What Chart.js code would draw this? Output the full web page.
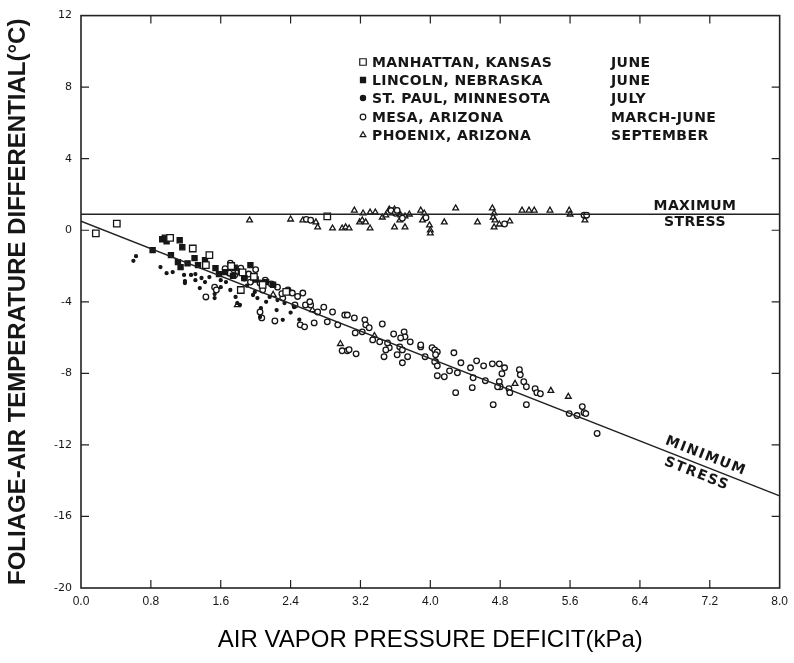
<!DOCTYPE html>
<html>
<head>
<meta charset="utf-8">
<script src="https://cdn.jsdelivr.net/npm/chart.js@4.4.1/dist/chart.umd.min.js"></script>
<style>
  html, body { margin: 0; padding: 0; background: #fff; }
  #wrap { width: 794px; height: 663px; position: relative; }
</style>
</head>
<body>
<div id="wrap"><canvas id="stressChart"></canvas></div>
<script>
// tick values for both axes
const xTicks = [0, 0.8, 1.6, 2.4, 3.2, 4.0, 4.8, 5.6, 6.4, 7.2, 8.0];
const yTicks = [-20, -16, -12, -8, -4, 0, 4, 8, 12];

// [VPD (kPa), Tc - Ta (°C)] per site
const manhattan = [
  [0.17, -0.18], [0.41, 0.37], [1.02, -0.43], [1.28, -1.02], [1.47, -1.39], [1.43, -1.95],
  [1.72, -2.0], [1.85, -2.35], [1.83, -3.34], [1.98, -2.6], [2.08, -3.05], [2.35, -3.45], [2.82, 0.78]
];
const lincoln = [
  [0.82, -1.11], [0.93, -0.5], [0.98, -0.62], [1.13, -0.56], [1.16, -0.95], [1.03, -1.39],
  [1.11, -1.78], [1.14, -2.06], [1.3, -1.56], [1.34, -1.95], [1.42, -1.67], [1.54, -2.12],
  [1.65, -2.34], [1.94, -1.95], [1.83, -2.34], [1.87, -2.67], [1.76, -2.1], [2.0, -2.75],
  [2.12, -2.9], [2.2, -3.05], [1.22, -1.85], [1.58, -2.45], [0.96, -0.42], [1.74, -2.55]
];
const stPaul = [
  [0.63, -1.45], [0.6, -1.71], [0.91, -2.06], [0.98, -2.4], [1.05, -2.34], [1.18, -2.5],
  [1.19, -2.84], [1.19, -2.95], [1.26, -2.5], [1.31, -2.45], [1.31, -2.79], [1.38, -2.67],
  [1.36, -3.23], [1.47, -2.62], [1.53, -3.57], [1.53, -3.79], [1.6, -2.79], [1.6, -3.18],
  [1.71, -3.34], [1.77, -3.73], [1.79, -4.07], [1.99, -3.45], [1.82, -4.18], [1.97, -3.62],
  [2.02, -3.79], [2.06, -4.35], [2.16, -3.73], [2.24, -4.46], [2.31, -5.01], [2.05, -4.85],
  [2.5, -5.0], [2.4, -4.6], [2.25, -3.9], [2.33, -4.07], [1.66, -2.9], [1.9, -3.1],
  [2.12, -4.0], [2.44, -4.3], [1.42, -2.9]
];
const mesa = [
  [1.71, -1.84], [1.83, -2.12], [1.7, -2.4], [1.76, -2.5], [1.87, -2.67], [1.94, -2.9],
  [2.05, -2.95], [2.11, -2.79], [2.08, -3.34], [2.25, -3.18], [2.37, -3.34], [2.42, -3.51],
  [2.54, -3.51], [2.31, -3.79], [2.45, -4.18], [1.53, -3.18], [1.55, -3.34], [1.43, -3.73],
  [2.05, -4.57], [2.07, -4.9], [2.22, -5.07], [2.57, -4.18], [2.63, -4.18], [2.71, -4.57],
  [2.51, -5.29], [2.56, -5.4], [2.67, -5.18], [2.82, -5.12], [2.88, -4.57], [2.94, -5.29],
  [3.02, -4.74], [3.05, -4.74], [3.13, -4.9], [3.14, -5.74], [3.25, -5.01], [3.26, -5.29],
  [3.45, -5.24], [2.99, -6.74], [3.05, -6.74], [3.15, -6.91], [3.47, -7.07], [3.53, -6.57],
  [3.68, -7.41], [3.7, -5.68], [3.71, -5.96], [3.77, -6.24], [3.89, -6.52], [4.02, -6.57],
  [4.06, -7.35], [3.66, -6.02], [3.62, -6.96], [3.22, -5.68], [3.07, -6.68], [3.34, -6.13],
  [3.42, -6.24], [3.51, -6.3], [3.65, -6.52], [3.68, -6.69], [3.74, -7.07], [3.49, -6.69],
  [3.89, -6.41], [3.94, -7.07], [4.05, -6.69], [4.08, -6.8], [4.06, -6.96], [4.27, -6.85],
  [4.05, -7.35], [4.08, -7.58], [4.08, -8.13], [4.16, -8.19], [4.22, -7.86], [4.29, -9.08],
  [4.31, -7.97], [4.35, -7.41], [4.46, -7.69], [4.49, -8.25], [4.48, -8.8], [4.53, -7.3],
  [4.61, -7.58], [4.63, -8.41], [4.72, -9.75], [4.71, -7.47], [4.79, -7.47], [4.85, -7.69],
  [4.82, -8.02], [4.79, -8.47], [4.8, -8.75], [4.77, -8.75], [4.9, -8.86], [4.91, -9.08],
  [5.02, -7.8], [5.03, -8.08], [5.07, -8.47], [5.1, -8.75], [5.1, -9.75], [5.2, -8.86],
  [5.22, -9.08], [5.26, -9.14], [5.59, -10.25], [5.68, -10.36], [5.74, -9.86], [5.76, -10.2],
  [5.78, -10.25], [5.91, -11.36],
  [1.8, -2.3], [1.92, -2.45], [2.0, -2.2], [2.18, -3.0], [1.65, -2.15], [2.3, -3.55],
  [2.48, -3.7], [2.62, -4.0], [2.78, -4.3], [3.3, -5.45], [3.58, -5.8],
  [3.55, 1.1], [3.6, 0.95], [3.95, 0.7], [5.76, 0.84], [5.79, 0.84], [4.85, 0.35],
  [2.58, 0.61], [2.63, 0.56], [3.62, 1.11], [3.68, 0.67]
];
const phoenix = [
  [1.93, 0.56], [2.4, 0.61], [2.54, 0.56], [2.69, 0.45], [2.71, 0.17], [2.88, 0.11],
  [2.99, 0.11], [3.03, 0.17], [3.07, 0.11], [3.13, 1.11], [3.19, 0.45], [3.22, 0.56],
  [3.26, 0.45], [3.31, 0.11], [3.23, 0.95], [3.31, 1.0], [3.37, 1.0], [3.45, 0.72],
  [3.49, 0.84], [3.53, 1.17], [3.59, 1.17], [3.57, 0.95], [3.66, 0.84], [3.71, 0.78],
  [3.76, 0.89], [3.65, 0.56], [3.59, 0.17], [3.71, 0.17], [3.89, 1.11], [3.93, 0.95],
  [3.91, 0.56], [3.99, 0.28], [4.0, 0.0], [4.0, -0.17], [4.16, 0.45], [4.29, 1.23],
  [4.54, 0.45], [4.71, 1.23], [4.73, 0.95], [4.72, 0.72], [4.74, 0.56], [4.73, 0.17],
  [4.79, 0.33], [4.91, 0.5], [5.05, 1.11], [5.13, 1.11], [5.19, 1.11], [5.37, 1.11],
  [5.59, 1.11], [5.6, 0.89], [5.77, 0.56],
  [2.65, -4.46], [2.97, -6.35], [4.97, -8.58], [5.38, -8.97], [5.58, -9.3], [3.36, -5.9],
  [2.2, -3.6], [1.79, -4.18]
];

const siteNames = ['MANHATTAN, KANSAS', 'LINCOLN, NEBRASKA', 'ST. PAUL, MINNESOTA', 'MESA, ARIZONA', 'PHOENIX, ARIZONA'];
const siteMonths = ['JUNE', 'JUNE', 'JULY', 'MARCH-JUNE', 'SEPTEMBER'];

// upper and lower baselines
const baselineX = [0, 8];
const maxStressY = [0.9, 0.9];
const minStressY = [0.51, -14.85];

const INK = '#161616';
const toPoints = arr => arr.map(p => ({ x: p[0], y: p[1] }));
const toLine = ys => baselineX.map((x, i) => ({ x: x, y: ys[i] }));

const markerStyles = [
  { pointStyle: 'rect', radius: 4.6, fill: '#fff' },
  { pointStyle: 'rect', radius: 3.6, fill: INK },
  { pointStyle: 'circle', radius: 1.5, fill: INK },
  { pointStyle: 'circle', radius: 2.8, fill: '#fff' },
  { pointStyle: 'triangle', radius: 3.3, fill: '#fff' }
];
const siteData = [manhattan, lincoln, stPaul, mesa, phoenix];

const siteDatasets = siteData.map((arr, i) => ({
  type: 'scatter',
  label: siteNames[i],
  data: toPoints(arr),
  pointStyle: markerStyles[i].pointStyle,
  pointRadius: markerStyles[i].radius,
  backgroundColor: markerStyles[i].fill,
  borderColor: INK,
  pointBorderWidth: 1.3
}));

const lineDataset = (label, ys) => ({
  type: 'line',
  label: label,
  data: toLine(ys),
  borderColor: '#222',
  borderWidth: 1.5,
  pointRadius: 0,
  fill: false
});

// frame, inward tick marks, legend block and stress labels
const decorations = {
  id: 'decorations',
  afterDatasetsDraw(chart) {
    const { ctx, chartArea: a, scales: { x, y } } = chart;
    ctx.save();
    ctx.strokeStyle = '#222';
    ctx.lineWidth = 1.6;
    ctx.strokeRect(a.left, a.top, a.right - a.left, a.bottom - a.top);

    const len = 8;
    ctx.lineWidth = 1.2;
    ctx.beginPath();
    xTicks.slice(1, -1).forEach(v => {
      const px = x.getPixelForValue(v);
      ctx.moveTo(px, a.bottom); ctx.lineTo(px, a.bottom - len);
      ctx.moveTo(px, a.top); ctx.lineTo(px, a.top + len);
    });
    yTicks.slice(1, -1).forEach(v => {
      const py = y.getPixelForValue(v);
      ctx.moveTo(a.left, py); ctx.lineTo(a.left + len, py);
      ctx.moveTo(a.right, py); ctx.lineTo(a.right - len, py);
    });
    ctx.stroke();

    // legend
    ctx.fillStyle = INK;
    ctx.font = 'bold 14px "DejaVu Sans"';
    ctx.letterSpacing = '0.4px';
    ctx.textBaseline = 'middle';
    ctx.textAlign = 'left';
    const rowY = [62, 80, 98, 117, 135];
    siteNames.forEach((name, i) => {
      const m = markerStyles[i];
      ctx.save();
      ctx.fillStyle = m.fill;
      ctx.strokeStyle = INK;
      ctx.lineWidth = 1.2;
      Chart.helpers.drawPoint(ctx, {
        pointStyle: m.pointStyle,
        radius: Math.max(m.radius, 2.6),
        rotation: 0,
        borderWidth: 1.2
      }, 363, rowY[i]);
      ctx.restore();
      ctx.fillText(name, 372, rowY[i] + 1);
      ctx.fillText(siteMonths[i], 611, rowY[i] + 1);
    });

    // upper baseline label
    ctx.textAlign = 'center';
    const mx = x.getPixelForValue(7.03);
    const my = y.getPixelForValue(maxStressY[1]);
    ctx.fillText('MAXIMUM', mx, my - 8);
    ctx.fillText('STRESS', mx, my + 8);

    // lower baseline label, rotated along the line
    const x0 = x.getPixelForValue(baselineX[0]), y0 = y.getPixelForValue(minStressY[0]);
    const x1 = x.getPixelForValue(baselineX[1]), y1 = y.getPixelForValue(minStressY[1]);
    const ang = Math.atan2(y1 - y0, x1 - x0);
    const lx = x.getPixelForValue(7.07);
    const ly = y0 + (lx - x0) * Math.tan(ang);
    ctx.translate(lx, ly);
    ctx.rotate(ang);
    ctx.letterSpacing = '1.5px';
    ctx.fillText('MINIMUM', 4, -10);
    ctx.fillText('STRESS', 2, 10);
    ctx.restore();
  }
};

new Chart(document.getElementById('stressChart'), {
  type: 'scatter',
  data: {
    datasets: [
      lineDataset('MAXIMUM STRESS', maxStressY),
      lineDataset('MINIMUM STRESS', minStressY),
      ...siteDatasets
    ]
  },
  options: {
    responsive: true,
    maintainAspectRatio: false,
    animation: false,
    layout: { padding: { top: 15, right: 8, left: 0, bottom: 0 } },
    plugins: {
      legend: { display: false },
      tooltip: { enabled: false }
    },
    scales: {
      x: {
        type: 'linear',
        min: 0,
        max: 8,
        afterBuildTicks: s => { s.ticks = xTicks.map(v => ({ value: v })); },
        afterFit: s => { s.height = 75; },
        grid: { display: false, drawTicks: false },
        border: { display: false },
        ticks: {
          padding: 6,
          color: INK,
          font: { family: 'Liberation Sans', size: 12 },
          callback: v => Number(v).toFixed(1)
        },
        title: {
          display: true,
          text: 'AIR VAPOR PRESSURE DEFICIT(kPa)',
          color: '#000',
          font: { family: 'Liberation Sans', size: 24 },
          padding: { top: 0, bottom: 8 }
        }
      },
      y: {
        type: 'linear',
        min: -20,
        max: 12,
        afterBuildTicks: s => { s.ticks = yTicks.map(v => ({ value: v })); },
        afterFit: s => { s.width = 81; },
        grid: { display: false, drawTicks: false },
        border: { display: false },
        ticks: {
          padding: 9,
          color: INK,
          font: { family: 'DejaVu Sans', size: 11 }
        },
        title: {
          display: true,
          text: 'FOLIAGE-AIR TEMPERATURE DIFFERENTIAL(°C)',
          color: INK,
          font: { family: 'Liberation Sans', size: 24, weight: 'bold' },
          padding: { top: 4, bottom: 0 }
        }
      }
    }
  },
  plugins: [decorations]
});
</script>
</body>
</html>
